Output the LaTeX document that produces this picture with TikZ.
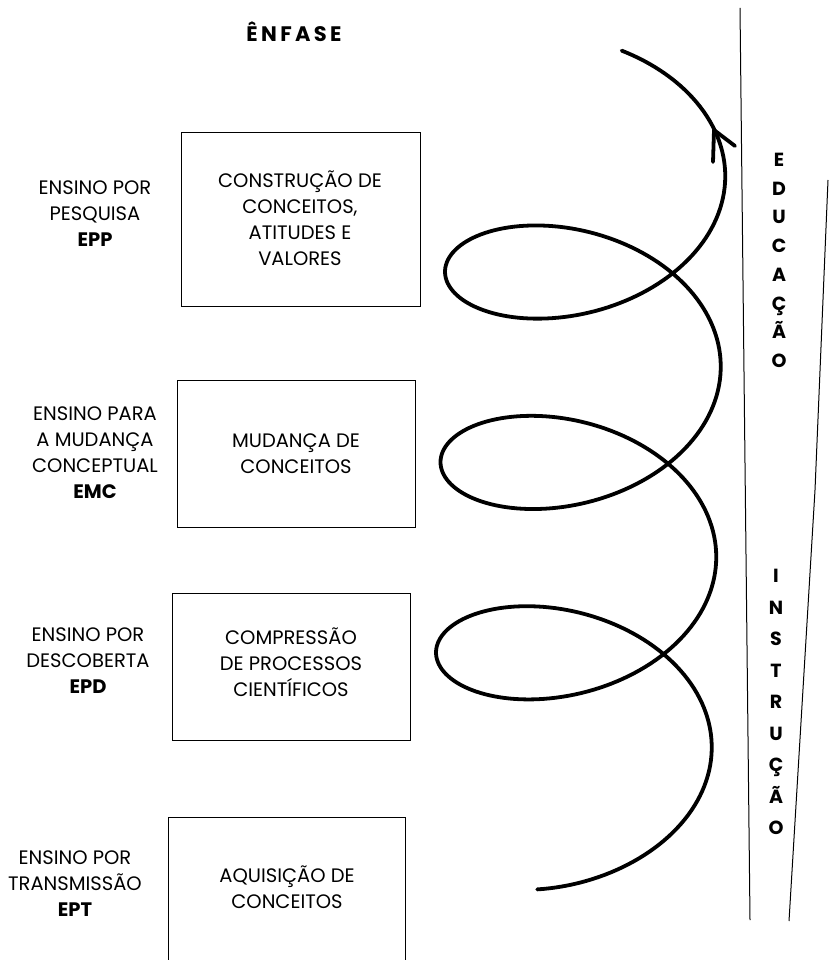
\documentclass[tikz,border=0pt]{standalone}
\usepackage{fontspec}
\setmainfont{Poppins}
\begin{document}
\begin{tikzpicture}[x=1pt,y=-1pt,
  boxst/.style={draw, line width=0.9pt, inner sep=0pt},
  txt/.style={align=center, font=\fontsize{19.5}{26}\selectfont},
  vert/.style={anchor=base, font=\bfseries\fontsize{19}{19}\selectfont},
  spiral/.style={line width=3.8pt, line cap=round, line join=round},
  rule/.style={line width=1pt}]
\useasboundingbox (0,0) rectangle (828,960);

% title
\node[font=\bfseries\fontsize{21}{21}\selectfont] (title) at (294,32) {\addfontfeatures{LetterSpace=16}ÊNFASE};

% boxes
\node[boxst, minimum width=239pt, minimum height=174pt] (b1) at (300.5,219) {};
\node[boxst, minimum width=238pt, minimum height=147pt] (b2) at (296,453.5) {};
\node[boxst, minimum width=238pt, minimum height=147pt] (b3) at (291,666.5) {};
\node[boxst, minimum width=237pt, minimum height=160pt] (b4) at (286.5,897) {};

% box texts
\node[txt] (t1) at (300,218) {CONSTRUÇÃO DE\\CONCEITOS,\\ATITUDES E\\VALORES};
\node[txt] (t2) at (296,454) {MUDANÇA DE\\CONCEITOS};
\node[txt] (t3) at (291,662) {COMPRESSÃO\\DE PROCESSOS\\CIENTÍFICOS};
\node[txt] (t4) at (287,887) {AQUISIÇÃO DE\\CONCEITOS};

% left labels
\node[txt] (l1) at (95,214) {ENSINO POR\\PESQUISA\\\textbf{EPP}};
\node[txt] (l2) at (95,453) {ENSINO PARA\\A MUDANÇA\\CONCEPTUAL\\\textbf{EMC}};
\node[txt] (l3) at (88,661) {ENSINO POR\\DESCOBERTA\\\textbf{EPD}};
\node[txt] (l4) at (75,884) {ENSINO POR\\TRANSMISSÃO\\\textbf{EPT}};

% spiral
\draw[spiral] plot[domain=-1.82:20.17, samples=500, variable=\t]
  ({575+0.716*(\t-3.1416)+139*cos(\t r)}, {748-89*sin(\t r)-30.3*\t});
\coordinate (tip) at (714,130);
\coordinate (barbR) at (735,146);
\coordinate (barbL) at (713,162);
\draw[spiral] (barbR) -- (tip) -- (barbL);

% right rules
\coordinate (r1a) at (740,8);
\coordinate (r1b) at (750,920);
\coordinate (r2a) at (828,180);
\coordinate (r2m) at (815,490);
\coordinate (r2b) at (789,921);
\draw[rule] (r1a) -- (r1b);
\draw[rule] (r2a) -- (r2m) -- (r2b);

% vertical words
\foreach \l [count=\i] in {E,D,U,C,A,Ç,Ã,O}
  \node[vert] (edu\i) at (779,{166.5+28.7*(\i-1)}) {\l};
\foreach \l [count=\i] in {I,N,S,T,R,U,Ç,Ã,O}
  \node[vert] (ins\i) at (776,{582.5+31.5*(\i-1)}) {\l};
\end{tikzpicture}
\end{document}
